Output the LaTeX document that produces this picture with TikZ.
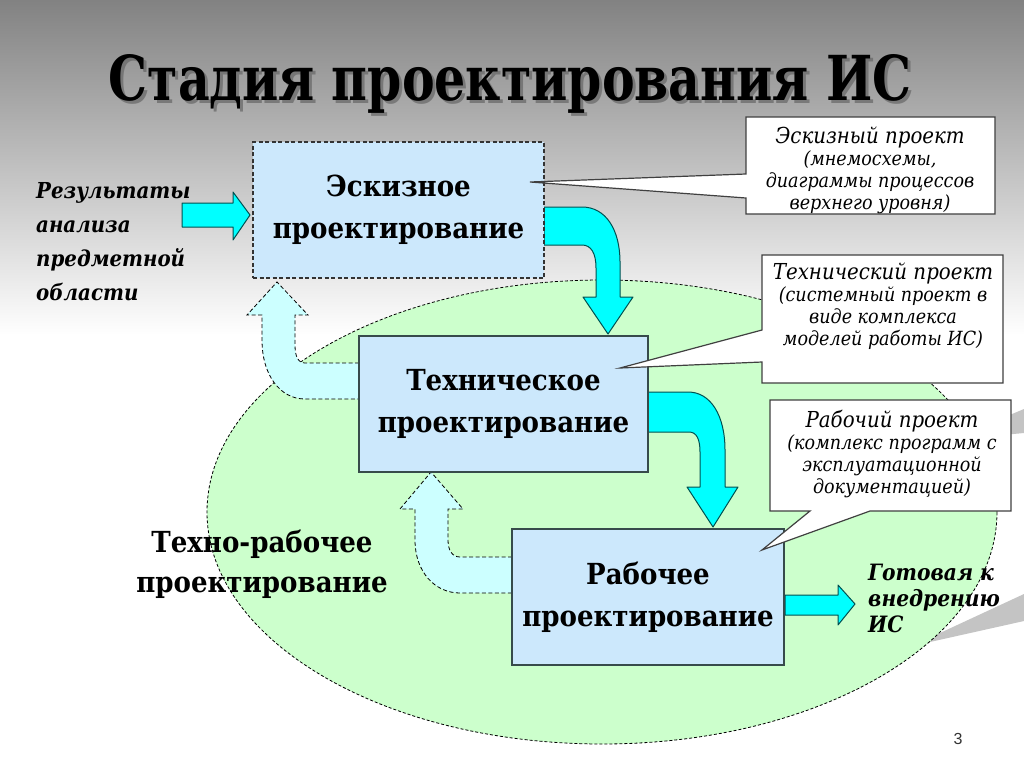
\documentclass[tikz,border=0pt]{standalone}
\usepackage{fontspec}
\setmainfont{DejaVu Serif Condensed}
\newfontfamily\sansf{Liberation Sans}
\usetikzlibrary{shapes.geometric}
\definecolor{bgtop}{RGB}{130,130,130}
\definecolor{boxfill}{RGB}{204,232,252}
\definecolor{boxline}{RGB}{55,75,75}
\definecolor{cyanA}{RGB}{0,255,255}
\definecolor{cyanLine}{RGB}{0,80,80}
\definecolor{fbfill}{RGB}{204,255,255}
\definecolor{ellfill}{RGB}{204,255,204}
\definecolor{callline}{RGB}{64,64,64}
\definecolor{wedgegray}{RGB}{196,196,196}
\tikzset{
  box/.style={draw=boxline, line width=1.2pt, fill=boxfill, minimum height=136pt, align=center,
    font=\fontsize{29}{42}\selectfont\bfseries, inner sep=0pt},
  bigarrow/.style={fill=cyanA, draw=cyanLine, line width=1pt, line join=round},
  backarrow/.style={fill=fbfill, draw=black, line width=0.8pt, dash pattern=on 4pt off 2.5pt},
  callout/.style={fill=white, draw=callline, line width=1.2pt},
  calltext/.style={align=center, font=\fontsize{19.5}{22}\selectfont\itshape, inner sep=0pt},
  titlefont/.style={font=\fontsize{62}{70}\selectfont\bfseries}
}
\begin{document}
\begin{tikzpicture}[x=1pt,y=-1pt]
\useasboundingbox (0,0) rectangle (1024,768);
\fill[white] (0,0) rectangle (1024,768);
\shade[top color=bgtop, bottom color=white] (0,0) rectangle (1024,335);
% decorative wedges
\fill[wedgegray] (950,440) -- (1024,409) -- (1024,433) -- cycle;
\fill[wedgegray] (912,646) -- (1024,594) -- (1024,621) -- cycle;
% ellipse
\node[ellipse, draw=black, fill=ellfill, line width=0.8pt, dash pattern=on 3pt off 2pt,
  minimum width=790pt, minimum height=464pt, inner sep=0pt] (ell) at (602,512) {};
% title
\node[titlefont, text=black!60, opacity=0.7, anchor=base] (titleshadow) at (513,103) {\scalebox{0.878}[1]{Стадия проектирования ИС}};
\node[titlefont, anchor=base] (title) at (510,100) {\scalebox{0.878}[1]{Стадия проектирования ИС}};
% feedback arrows
\draw[backarrow] (359,363) -- (305,363) .. controls (298,363) and (295,356) .. (295,345) -- (295,315)
  -- (308,315) -- (277,282) -- (247,315) -- (262,315) -- (262,340)
  .. controls (262,375) and (280,399) .. (305,399) -- (359,399) -- cycle;
\draw[backarrow] (512,557) -- (460,557) .. controls (452,557) and (448,550) .. (448,540) -- (448,509)
  -- (463,509) -- (431,472) -- (400,509) -- (415,509) -- (415,540)
  .. controls (415,572) and (435,593) .. (460,593) -- (512,593) -- cycle;
% cyan arrows
\draw[bigarrow] (182,203) -- (233,203) -- (233,192) -- (250,215) -- (233,240) -- (233,227) -- (182,227) -- cycle;
\draw[bigarrow] (544,207) -- (582,207) .. controls (606,207) and (620,230) .. (620,262) -- (620,297)
  -- (633,297) -- (608,334) -- (583,297) -- (596,297) -- (596,268)
  .. controls (596,253) and (591,245) .. (582,245) -- (544,245) -- cycle;
\draw[bigarrow] (648,392) -- (688,392) .. controls (711,392) and (725,416) .. (725,450) -- (725,487)
  -- (738,487) -- (713,527) -- (687,487) -- (700,487) -- (700,452)
  .. controls (700,440) and (697,432) .. (689,432) -- (648,432) -- cycle;
\draw[bigarrow] (785,595) -- (838,595) -- (838,585) -- (855,604) -- (838,625) -- (838,615) -- (785,615) -- cycle;
% boxes
\node[box, draw=black!80, dash pattern=on 4pt off 2.5pt, minimum width=291pt] (b1) at (398.5,210) {Эскизное\\проектирование};
\node[box, minimum width=289pt] (b2) at (503.5,404) {Техническое\\проектирование};
\node[box, minimum width=272pt] (b3) at (648,597) {Рабочее\\проектирование};
% callouts
\draw[callout] (746,117) -- (995,117) -- (995,214) -- (746,214) -- (746,198) -- (530,182) -- (746,174) -- cycle;
\draw[callout] (762,255) -- (1003,255) -- (1003,383) -- (762,383) -- (762,362) -- (620,368) -- (762,330) -- cycle;
\draw[callout] (770,400) -- (1011,400) -- (1011,511) -- (870,511) -- (762,550) -- (810,511) -- (770,511) -- cycle;
\node[calltext, anchor=north] (c1t) at (870,127) {{\fontsize{22}{24}\selectfont Эскизный проект}\\(мнемосхемы,\\диаграммы процессов\\верхнего уровня)};
\node[calltext, anchor=north] (c2t) at (883,263) {{\fontsize{22}{24}\selectfont Технический проект}\\(системный проект в\\виде комплекса\\моделей работы ИС)};
\node[calltext, anchor=north] (c3t) at (892,410) {{\fontsize{22}{24}\selectfont Рабочий проект}\\(комплекс программ с\\эксплуатационной\\документацией)};
% free texts
\node[anchor=north west, align=left, inner sep=0pt, font=\fontsize{22}{34}\selectfont\bfseries\itshape] (src) at (36,182) {Результаты\\анализа\\предметной\\области};
\node[anchor=north west, align=left, inner sep=0pt, font=\fontsize{22.5}{26}\selectfont\bfseries\itshape] (ready) at (868,564) {Готовая к\\внедрению\\ИС};
\node[anchor=north, align=center, inner sep=0pt, font=\fontsize{29}{40}\selectfont\bfseries] (tr) at (262,530) {Техно-рабочее\\проектирование};
\node[anchor=base, inner sep=0pt, text=black!80, font=\sansf\fontsize{16}{18}\selectfont] (pnum) at (958,744) {3};
\end{tikzpicture}
\end{document}
